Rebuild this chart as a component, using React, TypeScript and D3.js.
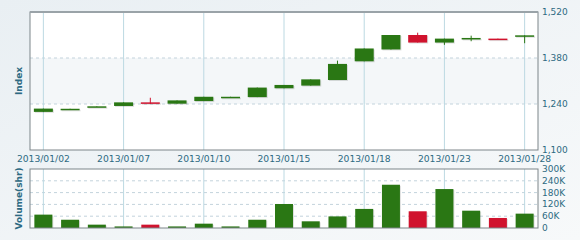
import React from "react";
import * as d3 from "d3";

const dates = ["2013/01/02","2013/01/03","2013/01/04","2013/01/07","2013/01/08","2013/01/09","2013/01/10","2013/01/11","2013/01/14","2013/01/15","2013/01/16","2013/01/17","2013/01/18","2013/01/21","2013/01/22","2013/01/23","2013/01/24","2013/01/25","2013/01/28"];
const opens = [1216,1224,1231,1234,1245,1241,1249,1260,1261,1288,1296,1313,1370,1406,1450,1427,1439,1439,1447];
const closes = [1226,1225.5,1233,1245,1241,1251,1262,1262,1290,1298,1315,1362,1409,1450,1427,1439,1441,1437,1449];
const highs = [1226,1225.5,1233,1245,1259,1251,1262,1262,1290,1298,1315,1372,1409,1450,1457,1439,1448,1439,1449];
const lows = [1216,1224,1231,1234,1240,1241,1249,1260,1261,1288,1296,1313,1370,1406,1427,1420,1431,1437,1425];
const volumes = [68000,42000,17000,8000,17000,8000,22000,8000,42000,122000,34000,59000,97000,220000,85000,198000,88000,51000,73000];
const priceTicks = [1100,1240,1380,1520];
const volumeTicks = [0,60000,120000,180000,240000,300000];
const labelEvery = 3;

const W = 580, H = 240;
const L = 30, R = 538;
const mainTop = 12, mainBot = 150;
const volTop = 169, volBot = 228;
const GREEN = "#2a7714";
const RED = "#d0132e";
const TXT = "#2d6a82";
const FONT = "DejaVu Sans, Verdana, sans-serif";

export default function App() {
  const x = d3.scaleBand<number>().domain(d3.range(dates.length)).range([L, R]);
  const cx = (i: number) => (x(i) as number) + x.bandwidth() / 2;
  const y = d3.scaleLinear().domain([1100, 1520]).range([mainBot, mainTop]);
  const yv = d3.scaleLinear().domain([0, 300000]).range([volBot, volTop]);
  const bw = 19;
  const fmt = d3.format(",");
  const vfmt = (v: number) => (v === 0 ? "0" : `${v / 1000}K`);
  const labelIdx = d3.range(0, dates.length, labelEvery);

  return (
    <svg width={W} height={H} style={{ position: "absolute", left: 0, top: 0 }} fontFamily={FONT}>
      <defs>
        <linearGradient id="bg" x1="0" y1="0" x2="1" y2="1">
          <stop offset="0" stopColor="#e9eff3" />
          <stop offset="1" stopColor="#f7f9fa" />
        </linearGradient>
      </defs>
      <rect width={W} height={H} fill="url(#bg)" />
      {/* main panel */}
      <rect x={L} y={mainTop} width={R - L} height={mainBot - mainTop} fill="#ffffff" />
      <rect x={L} y={y(1380)} width={R - L} height={y(1240) - y(1380)} fill="#f4f7f9" />
      {priceTicks.slice(1, -1).map((t) => (
        <line key={t} x1={L} x2={R} y1={y(t)} y2={y(t)} stroke="#c3d3dc" strokeDasharray="3,3" />
      ))}
      {labelIdx.map((i) => (
        <line key={i} x1={cx(i)} x2={cx(i)} y1={mainTop} y2={mainBot} stroke="#bcd9e2" />
      ))}
      {/* volume panel */}
      <rect x={L} y={volTop} width={R - L} height={volBot - volTop} fill="#ffffff" />
      {volumeTicks.slice(1, -1).map((t) => (
        <line key={t} x1={L} x2={R} y1={yv(t)} y2={yv(t)} stroke="#c3d3dc" strokeDasharray="3,3" />
      ))}
      {labelIdx.map((i) => (
        <line key={i} x1={cx(i)} x2={cx(i)} y1={volTop} y2={volBot} stroke="#bcd9e2" />
      ))}
      {/* candles */}
      {dates.map((d, i) => {
        const up = closes[i] >= opens[i];
        const c = up ? GREEN : RED;
        const top = y(Math.max(opens[i], closes[i]));
        const bot = y(Math.min(opens[i], closes[i]));
        const h = Math.max(1.5, bot - top);
        return (
          <g key={d}>
            <rect x={cx(i) - bw / 2 + 1} y={top + 1} width={bw} height={h} fill="#000" opacity={0.12} />
            <line x1={cx(i)} x2={cx(i)} y1={y(highs[i])} y2={y(lows[i])} stroke={c} strokeWidth={1} />
            <rect x={cx(i) - bw / 2} y={top} width={bw} height={h} fill={c} />
          </g>
        );
      })}
      {/* volume bars */}
      {volumes.map((v, i) => {
        const up = closes[i] >= opens[i];
        const c = up ? GREEN : RED;
        return (
          <g key={i}>
            <rect x={cx(i) - 9 + 1} y={yv(v) + 1} width={18} height={volBot - yv(v) - 1} fill="#000" opacity={0.12} />
            <rect x={cx(i) - 9} y={yv(v)} width={18} height={volBot - yv(v)} fill={c} />
          </g>
        );
      })}
      {/* borders */}
      <rect x={L} y={mainTop} width={R - L} height={mainBot - mainTop} fill="none" stroke="#7d8589" strokeWidth={1} />
      <line x1={L} x2={R} y1={mainTop} y2={mainTop} stroke="#9aa3a8" strokeWidth={2} />
      <rect x={L} y={volTop} width={R - L} height={volBot - volTop} fill="none" stroke="#7d8589" strokeWidth={1} />
      {/* axis labels */}
      {priceTicks.map((t) => (
        <text key={t} x={542} y={y(t) + 3} fontSize={9} fill={TXT}>{fmt(t)}</text>
      ))}
      {volumeTicks.map((t) => (
        <text key={t} x={542} y={yv(t) + 3} fontSize={9} fill={TXT}>{vfmt(t)}</text>
      ))}
      {labelIdx.map((i) => (
        <text key={i} x={cx(i)} y={162} fontSize={9.2} fill={TXT} textAnchor="middle">{dates[i]}</text>
      ))}
      <text transform={`translate(22,${(mainTop + mainBot) / 2}) rotate(-90)`} textAnchor="middle" fontSize={9} fontWeight="bold" fill={TXT}>Index</text>
      <text transform={`translate(22,${(volTop + volBot) / 2}) rotate(-90)`} textAnchor="middle" fontSize={9} fontWeight="bold" fill={TXT}>Volume(shr)</text>
    </svg>
  );
}
